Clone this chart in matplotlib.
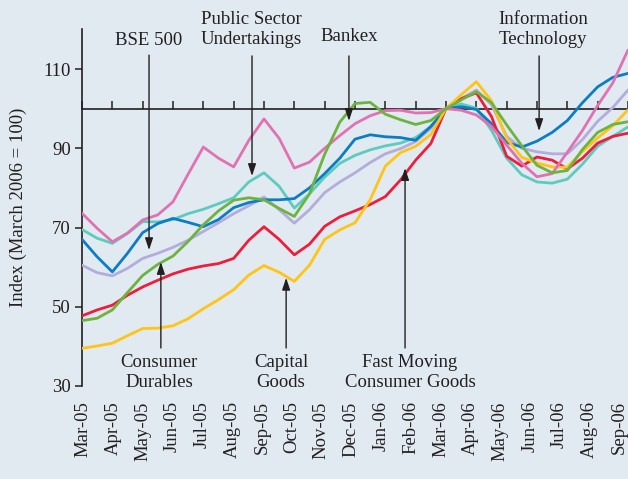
import numpy as np
import matplotlib
matplotlib.use('Agg')
import matplotlib.pyplot as plt

plt.rcParams['font.family'] = ['Liberation Serif', 'DejaVu Serif']

months = ['Mar-05', 'Apr-05', 'May-05', 'Jun-05', 'Jul-05', 'Aug-05', 'Sep-05',
          'Oct-05', 'Nov-05', 'Dec-05', 'Jan-06', 'Feb-06', 'Mar-06', 'Apr-06',
          'May-06', 'Jun-06', 'Jul-06', 'Aug-06', 'Sep-06']

# half-monthly observations, Mar-05 .. Sep-06
t = np.arange(37) * 0.5

bse500 = [60.5, 58.6, 57.8, 59.7, 62.2, 63.5, 65.0, 66.8, 69.0, 71.2, 73.5, 75.5,
          77.7, 74.5, 71.1, 74.5, 78.8, 81.5, 83.8, 86.4, 88.6, 89.9, 91.7, 95.0,
          100.0, 102.5, 104.7, 101.0, 93.0, 90.0, 89.1, 88.6, 88.6, 92.2, 96.8,
          100.3, 104.7]
psu = [69.5, 67.3, 66.0, 68.5, 71.5, 71.4, 72.0, 73.5, 74.6, 76.0, 77.5, 81.5,
       83.8, 80.4, 74.9, 78.5, 82.7, 86.2, 88.2, 89.6, 90.6, 91.3, 92.7, 95.5,
       100.0, 101.2, 100.1, 94.5, 87.5, 83.3, 81.5, 81.2, 82.2, 86.0, 90.5,
       93.0, 95.4]
bankex = [73.6, 69.8, 66.4, 68.6, 71.9, 73.2, 76.5, 83.5, 90.3, 87.5, 85.3, 92.0,
          97.4, 92.5, 85.0, 86.5, 90.0, 93.2, 96.2, 98.2, 99.5, 99.6, 98.9, 99.0,
          100.0, 99.6, 98.4, 95.5, 90.8, 86.2, 82.8, 83.6, 89.0, 94.5, 100.8,
          106.5, 114.8]
it = [67.0, 62.6, 58.8, 63.5, 68.7, 71.0, 72.3, 71.3, 70.2, 72.0, 75.0, 76.3,
      77.0, 77.0, 77.3, 80.0, 83.6, 87.5, 92.3, 93.4, 92.9, 92.7, 92.0, 95.5,
      100.0, 100.5, 99.8, 96.2, 91.5, 90.3, 91.8, 94.0, 97.0, 101.5, 105.5,
      107.9, 108.9]
durables = [46.5, 47.1, 49.2, 53.6, 57.9, 60.7, 62.8, 66.5, 70.7, 74.2, 76.9, 77.5,
            77.0, 74.8, 72.8, 78.5, 88.5, 96.6, 101.3, 101.6, 98.6, 97.2, 96.0,
            97.0, 100.0, 102.2, 104.3, 101.5, 95.9, 90.6, 85.7, 83.8, 84.4, 89.7,
            94.0, 96.0, 96.7]
capital = [39.5, 40.1, 40.8, 42.7, 44.5, 44.6, 45.2, 47.0, 49.5, 51.8, 54.3, 58.0,
           60.4, 58.7, 56.4, 60.5, 67.0, 69.4, 71.2, 77.0, 85.5, 88.9, 90.5, 93.5,
           100.0, 103.5, 106.8, 102.0, 92.5, 87.7, 86.3, 85.3, 85.2, 89.2, 92.6,
           95.7, 99.7]
fmcg = [47.7, 49.2, 50.4, 52.9, 55.0, 56.7, 58.3, 59.5, 60.3, 60.9, 62.2, 66.8,
        70.2, 67.0, 63.1, 65.8, 70.3, 72.7, 74.2, 75.8, 77.8, 82.0, 87.0, 91.2,
        100.0, 102.5, 104.0, 98.0, 88.0, 85.5, 87.8, 87.0, 84.8, 87.5, 91.3,
        93.0, 93.8]

series = [
    (bse500, '#b3acdc'),
    (psu, '#5ecbbf'),
    (it, '#0b7dc3'),
    (fmcg, '#ee1d3b'),
    (capital, '#ffc414'),
    (bankex, '#e172b2'),
    (durables, '#6db33f'),
]

bg = '#e1e9f1'
ink = '#231f20'
fs = 13.5

fig = plt.figure(figsize=(6.28, 4.79), dpi=100, facecolor=bg)
ax = fig.add_axes([82 / 628, 1 - 386 / 479, 546 / 628, 356.6 / 479])
ax.set_facecolor(bg)

for vals, col in series:
    ax.plot(t, vals, color=col, lw=2.0, solid_joinstyle='round',
            solid_capstyle='round', zorder=3)

ax.set_xlim(0, 18)
ax.set_ylim(30, 120)

for s in ['top', 'right']:
    ax.spines[s].set_visible(False)
ax.spines['left'].set_color(ink)
ax.spines['left'].set_linewidth(1.2)
ax.spines['bottom'].set_position(('data', 100))
ax.spines['bottom'].set_color(ink)
ax.spines['bottom'].set_linewidth(1.2)
ax.spines['bottom'].set_zorder(2)

ax.set_xticks(range(len(months)))
ax.tick_params(axis='x', direction='in', length=6, width=1.1, color=ink,
               labelbottom=False)
ax.set_yticks([30, 50, 70, 90, 110])
ax.tick_params(axis='y', direction='out', length=5, width=1.1, color=ink,
               labelsize=fs, labelcolor=ink, pad=3)

sec = ax.secondary_xaxis('bottom')
label_pos = np.arange(len(months)) * 0.9812 + 0.043
sec.set_ticks(label_pos, labels=months)
sec.tick_params(length=0, pad=11, labelsize=fs, labelcolor=ink)
for lab in sec.get_xticklabels():
    lab.set_rotation(90)
sec.spines['bottom'].set_visible(False)

ax.set_ylabel('Index (March 2006 = 100)', fontsize=fs, color=ink)
ax.yaxis.set_label_coords(-0.1007, 0.5)

arrow = dict(arrowstyle='-|>,head_length=0.6,head_width=0.2', lw=1.0,
             color=ink, mutation_scale=12, shrinkA=0, shrinkB=0)

notes = [
    # text, text x, text y, arrow x, tail y, tip y
    ('BSE 500', 2.18, 117.3, 2.21, 113.5, 64.3),
    ('Public Sector\nUndertakings', 5.57, 120.0, 5.605, 113.3, 83.0),
    ('Bankex', 8.80, 118.3, 8.80, 113.3, 96.9),
    ('Information\nTechnology', 15.2, 120.0, 15.07, 113.3, 94.35),
    ('Consumer\nDurables', 2.54, 33.4, 2.60, 39.6, 61.3),
    ('Capital\nGoods', 6.56, 33.4, 6.73, 39.6, 57.3),
    ('Fast Moving\nConsumer Goods', 10.81, 33.4, 10.65, 39.6, 85.0),
]
for txt, tx, ty, axx, tail, tip in notes:
    ax.text(tx, ty, txt, ha='center', va='center', fontsize=fs, color=ink,
            linespacing=1.2, clip_on=False, zorder=5)
    ax.annotate('', xy=(axx, tip), xytext=(axx, tail), arrowprops=arrow,
                annotation_clip=False, zorder=5)

fig.savefig('out.png', dpi=100, facecolor=bg)
